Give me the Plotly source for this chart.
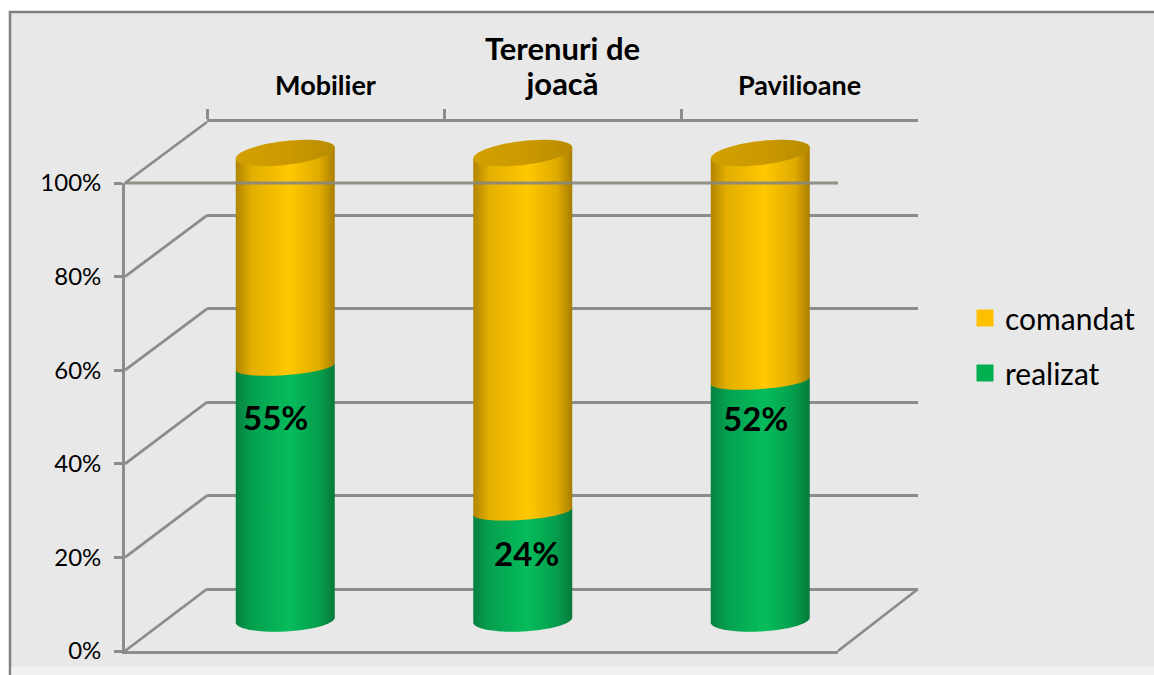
import numpy as np
import plotly.graph_objects as go

categories = ["Mobilier", "Terenuri de joacă", "Pavilioane"]
category_ticks = ['<span style="font-size:27px"><b>Mobilier</b></span>',
                  '<span style="font-size:31px"><b>Terenuri de<br>joacă</b></span>',
                  '<span style="font-size:27px"><b>Pavilioane</b></span>']
realizat = [55, 24, 52]
comandat = [45, 76, 48]
label_text = ["55%", "24%", "52%"]
label_y = [43.5, 14.3, 43.3]
label_dx = [-0.04, 0.015, -0.02]
y_ticks = [0, 20, 40, 60, 80, 100]

W, H = 1154, 675
GREY = "#8c8c8c"
LW = 2.8


def xdom(a, b):
    return [a / W, b / W]


def ydom(top, bottom):
    return [(H - bottom) / H, (H - top) / H]


# plot geometry, pixels
FRONT_L, FRONT_R, FRONT_B, FRONT_T = 125, 838, 651, 183
BACK_L, BACK_R, BACK_B, BACK_T = 207, 918, 589, 122
MID_L, MID_R, MID_B, MID_T = 166.5, 879, 620, 153

px_x = (MID_R - MID_L) / 3
px_y = (MID_B - MID_T) / 100
R = 49.5 / px_x
PAD = 5  # axis room (value units) so that the round ends are not clipped


def arc(cx, v, ry_px, shear_px, dy_px, t0, t1):
    t = np.linspace(t0, t1, 60)
    xs = cx + R * np.cos(t)
    ys = v + (-dy_px - ry_px * np.sin(t) + shear_px * np.cos(t)) / px_y
    return xs, ys


YEL = [[0, "#b08500"], [0.16, "#e3ae00"], [0.55, "#ffc800"], [0.85, "#e0aa00"], [1, "#a87e00"]]
GRN = [[0, "#07803f"], [0.16, "#05a04f"], [0.55, "#05bc5c"], [0.85, "#059c4c"], [1, "#067a3a"]]
CAP = [[0, "#d2a000"], [0.5, "#cc9a00"], [1, "#b98c00"]]

fig = go.Figure()

# back wall: categorical axis on top and native gridlines
fig.add_trace(go.Scatter(x=categories, y=[None] * 3, xaxis="x", yaxis="y", showlegend=False,
                         hoverinfo="skip"))

# bars (stacked, drawn by the library) with cylinder shading on top
xs_idx = [0, 1, 2]
fig.add_trace(go.Bar(x=xs_idx, y=realizat, name="realizat", xaxis="x2", yaxis="y2",
                     width=70 / px_x, marker=dict(color="#00b050", line=dict(color="#00b050", width=5)),
                     legendgroup="r", legendrank=2))
fig.add_trace(go.Bar(x=xs_idx, y=comandat, name="comandat", xaxis="x2", yaxis="y2",
                     width=70 / px_x, marker=dict(color="#ffc000", line=dict(color="#ffc000", width=5)),
                     legendgroup="c", legendrank=1))

for i, (r, c) in enumerate(zip(realizat, comandat)):
    total = r + c
    # green body
    bx, by = arc(i, 0, 11.5, 2.5, 0, np.pi, 0)
    tx, ty = arc(i, r, 0, 3.5, 3.5, 0, np.pi)
    fig.add_trace(go.Scatter(x=np.r_[bx, tx], y=np.r_[by, ty], fill="toself", mode="none",
                             fillgradient=dict(type="horizontal", colorscale=GRN),
                             xaxis="x2", yaxis="y2", showlegend=False, hoverinfo="skip"))
    # yellow body
    bx, by = arc(i, r, 8.5, 3.5, 3.5, np.pi, 0)
    tx, ty = arc(i, total, 0, 5.5, 0, 0, np.pi)
    fig.add_trace(go.Scatter(x=np.r_[bx, tx], y=np.r_[by, ty], fill="toself", mode="none",
                             fillgradient=dict(type="horizontal", colorscale=YEL),
                             xaxis="x2", yaxis="y2", showlegend=False, hoverinfo="skip"))
    # top cap
    cx_, cy_ = arc(i, total, 12, 5.5, 0, 0, 2 * np.pi)
    fig.add_trace(go.Scatter(x=cx_, y=cy_, fill="toself", mode="none",
                             fillgradient=dict(type="horizontal", colorscale=CAP),
                             xaxis="x2", yaxis="y2", showlegend=False, hoverinfo="skip"))

# front plane: an axis with no marks of its own, only the tick labels and lines
fig.add_trace(go.Scatter(x=[0, 1], y=[None, None], mode="lines", xaxis="x3", yaxis="y3",
                         showlegend=False, hoverinfo="skip"))

annotations = [
    dict(x=i + dx, y=y, xref="x2", yref="y2", text=f"<b>{t}</b>", showarrow=False,
         font=dict(size=33, color="#000000", family="Lato"))
    for i, (t, y, dx) in enumerate(zip(label_text, label_y, label_dx))
]

shapes = [dict(type="rect", xref="paper", yref="paper", x0=10 / W, x1=1180 / W,
               y0=-20 / H, y1=(H - 12) / H,
               fillcolor="#e8e8e8", line=dict(color="#808080", width=2.5), layer="below"),
          dict(type="rect", xref="paper", yref="paper", x0=11.5 / W, x1=1,
               y0=0, y1=(H - 667) / H,
               fillcolor="#f1f1f1", line=dict(width=0), layer="below")]


def paper_line(x0, y0, x1, y1, color=GREY, layer="below"):
    return dict(type="line", xref="paper", yref="paper", x0=x0 / W, x1=x1 / W,
                y0=(H - y0) / H, y1=(H - y1) / H, line=dict(color=color, width=LW), layer=layer)


for v in y_ticks:
    yf = FRONT_B + (FRONT_T - FRONT_B) * v / 100
    yb = BACK_B + (BACK_T - BACK_B) * v / 100
    shapes.append(paper_line(FRONT_L, yf, BACK_L, yb))
shapes.append(paper_line(FRONT_R, FRONT_B, BACK_R, BACK_B))
# 100 % line of the front plane crosses the cylinders
shapes.append(paper_line(FRONT_L, FRONT_T, FRONT_R, FRONT_T, color="rgba(135,135,125,0.9)", layer="above"))

fig.update_layout(
    width=W, height=H, margin=dict(l=0, r=0, t=0, b=0, autoexpand=False),
    paper_bgcolor="#ffffff", plot_bgcolor="rgba(0,0,0,0)",
    barmode="stack", hovermode=False,
    font=dict(family="Lato", color="#000000"),
    shapes=shapes, annotations=annotations,
    legend=dict(x=965 / W, y=(H - 292) / H, xanchor="left", yanchor="top",
                font=dict(size=30, family="Lato"), traceorder="grouped",
                tracegroupgap=13, bgcolor="rgba(0,0,0,0)"),
    xaxis=dict(domain=xdom(BACK_L, BACK_R), anchor="y", side="top", type="category",
               categoryorder="array", categoryarray=categories, range=[-0.5, 2.5],
               tickmode="array", tickvals=categories, ticktext=category_ticks,
               tickson="boundaries", ticks="outside", ticklen=10, tickwidth=LW, tickcolor=GREY,
               ticklabelstandoff=13,
               showline=True, linecolor=GREY, linewidth=LW, showgrid=False, zeroline=False,
               tickfont=dict(family="Lato", size=27, color="#000000")),
    yaxis=dict(domain=ydom(BACK_T, BACK_B), anchor="x", range=[0, 100], tickvals=y_ticks,
               showticklabels=False, ticks="", showline=False, showgrid=True,
               gridcolor=GREY, gridwidth=LW, zeroline=True, zerolinecolor=GREY, zerolinewidth=LW),
    xaxis2=dict(domain=xdom(MID_L, MID_R), anchor="y2", range=[-0.5, 2.5], visible=False),
    yaxis2=dict(domain=ydom(MID_T - PAD * px_y, MID_B + PAD * px_y), anchor="x2",
                range=[-PAD, 100 + PAD], visible=False),
    xaxis3=dict(domain=xdom(FRONT_L, FRONT_R), anchor="y3", range=[0, 1], showticklabels=False,
                ticks="", showgrid=False, zeroline=False, showline=True, linecolor=GREY, linewidth=LW),
    yaxis3=dict(domain=ydom(FRONT_T, FRONT_B), anchor="x3", range=[0, 100], tickvals=y_ticks,
                ticktext=[f"{v}%" for v in y_ticks], ticks="outside", ticklen=8, tickwidth=LW,
                ticklabelstandoff=8,
                tickcolor=GREY, showline=True, linecolor=GREY, linewidth=LW, showgrid=False,
                zeroline=False, tickfont=dict(family="Lato", size=24, color="#000000")),
)

fig.write_html("out.html", post_script="document.body.style.margin='0';",
               config=dict(displayModeBar=False))
